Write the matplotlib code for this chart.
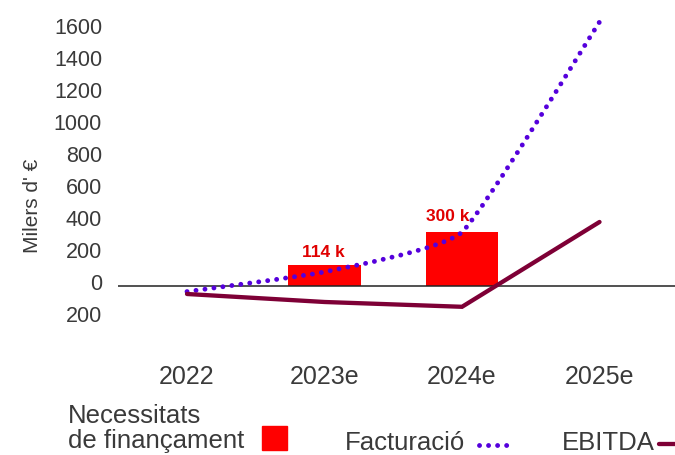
import matplotlib
matplotlib.use('Agg')
import matplotlib.pyplot as plt
import matplotlib.transforms as mtransforms
from matplotlib.path import Path
from matplotlib.patches import PathPatch, Rectangle
from matplotlib.lines import Line2D

plt.rcParams['font.family'] = ['Liberation Sans', 'DejaVu Sans']

# ---------------- data ----------------
categories = ['2022', '2023e', '2024e', '2025e']
revenue = [-35, 88, 337, 1650]          # Facturació (miles €)
ebitda = [-50, -100, -130, 400]         # EBITDA (miles €)
bar_categories = ['2023e', '2024e']     # Necessitats de finançament
bar_values = [114, 300]
bar_labels = ['114 k', '300 k']
yticks = [-200, 0, 200, 400, 600, 800, 1000, 1200, 1400, 1600]
ytick_labels = ['200', '0', '200', '400', '600', '800', '1000', '1200', '1400', '1600']
legend_labels = ['Necessitats\nde finançament', 'Facturació', 'EBITDA']
ylabel = "Milers d' €"

# ---------------- style ----------------
RED = '#ff0000'
BLUE = '#5500dc'
MAROON = '#7e0036'
TXT = '#3a3a3a'

W, H = 675, 455
fig = plt.figure(figsize=(W / 100, H / 100), dpi=100)


def fx(px):
    return px / W


def fy(py):
    return 1 - py / H


ax = fig.add_axes([fx(118), fy(362), (675 - 118) / W, (362 - 5) / H])
ax2 = ax.twinx()            # hidden secondary axis for the bars
ax2.set_zorder(0)
ax.set_zorder(1)
ax.patch.set_visible(False)

xpos = {c: i for i, c in enumerate(categories)}

ylim = (-475, 1756)
ax.set_ylim(*ylim)
ratio = 0.160 / 0.180
ax2.set_ylim(ylim[0] * ratio, ylim[1] * ratio)
ax.set_xlim(-0.502, 3.549)

# bars (secondary axis)
bx = [xpos[c] for c in bar_categories]
ax2.bar(bx, bar_values, width=0.524, color=RED, zorder=2)
offsets = [(-1, 9), (-10, 11)]
for x, v, lab, off in zip(bx, bar_values, bar_labels, offsets):
    ax2.annotate(lab, (x, v), xytext=off, textcoords='offset points',
                 ha='center', va='center', color='#e00000',
                 fontsize=12.5, fontweight='bold')

# zero line
ax.axhline(0, color='#222222', lw=1.1, zorder=1)

# Facturació lightly smoothed dotted line (Bezier path through the data points)
pts = [(float(i), float(v)) for i, v in enumerate(revenue)]
verts = [pts[0]]
codes = [Path.MOVETO]
n = len(pts)
k = 0.07
for i in range(n - 1):
    p0 = pts[i - 1] if i > 0 else pts[i]
    p1 = pts[i]
    p2 = pts[i + 1]
    p3 = pts[i + 2] if i + 2 < n else pts[i + 1]
    c1 = (p1[0] + (p2[0] - p0[0]) * k, p1[1] + (p2[1] - p0[1]) * k)
    c2 = (p2[0] - (p3[0] - p1[0]) * k, p2[1] - (p3[1] - p1[1]) * k)
    verts += [c1, c2, p2]
    codes += [Path.CURVE4] * 3
patch = PathPatch(Path(verts, codes), fill=False, edgecolor=BLUE, lw=3.5,
                  linestyle=(0, (0.01, 1.85)), capstyle='round', zorder=3)
ax.add_patch(patch)

# EBITDA line
ax.plot(range(len(categories)), ebitda, color=MAROON, lw=3.1,
        solid_capstyle='round', solid_joinstyle='miter', zorder=4)

# axes cosmetics
for a in (ax, ax2):
    for s in a.spines.values():
        s.set_visible(False)
ax2.set_yticks([])
ax.set_xticks(range(len(categories)), categories, fontsize=18, color=TXT)
ax.set_yticks(yticks, ytick_labels, fontsize=15.5, color=TXT)
ax.tick_params(axis='both', length=0)
ax.tick_params(axis='y', pad=11.5)
ax.tick_params(axis='x', pad=2)
shift = mtransforms.ScaledTranslation(0, 4 / 100, fig.dpi_scale_trans)
for lab in ax.get_yticklabels():
    lab.set_transform(lab.get_transform() + shift)

fig.text(fx(33), fy(206), ylabel, rotation=90, ha='center', va='center',
         fontsize=15, color=TXT)

# legend (manual layout)
l1, l2 = legend_labels[0].split('\n')
LFS = 18.5
fig.text(fx(68), fy(423), l1, va='baseline', ha='left', fontsize=LFS, color=TXT)
fig.text(fx(68), fy(448), l2, va='baseline', ha='left', fontsize=LFS, color=TXT)
fig.patches.append(Rectangle((fx(262), fy(450)), 25 / W, 24 / H,
                             transform=fig.transFigure, color=RED))
fig.text(fx(345), fy(450), legend_labels[1], va='baseline', ha='left',
         fontsize=LFS, color=TXT)
fig.lines.append(Line2D([fx(479), fx(510)], [fy(445), fy(445)],
                        transform=fig.transFigure, color=BLUE, lw=3.5,
                        linestyle=(0, (0.01, 1.85)), dash_capstyle='round'))
fig.text(fx(562), fy(450), legend_labels[2], va='baseline', ha='left',
         fontsize=LFS, color=TXT)
fig.lines.append(Line2D([fx(659), fx(695)], [fy(444), fy(444)],
                        transform=fig.transFigure, color=MAROON, lw=3.1,
                        solid_capstyle='round'))

fig.savefig('out.png', dpi=100)
